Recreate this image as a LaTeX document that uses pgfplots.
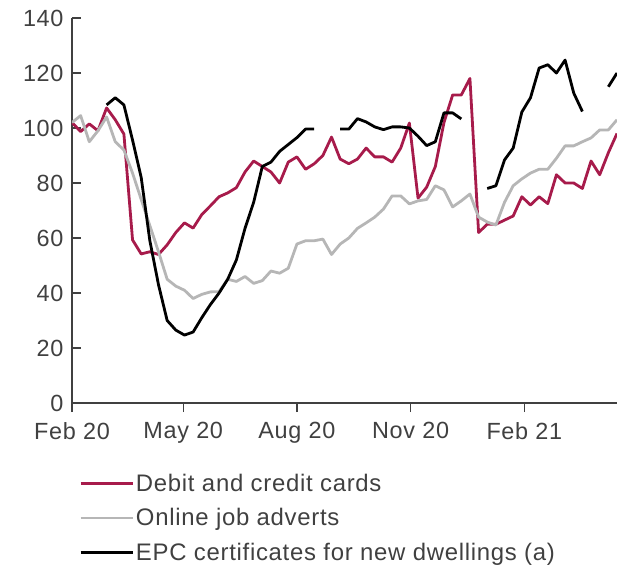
\documentclass[border=0pt]{standalone}
\usepackage{fontspec}
\setmainfont{Liberation Sans}[LetterSpace=3]
\usepackage{pgfplots}
\pgfplotsset{compat=1.18}
\definecolor{cardred}{RGB}{167,27,75}
\definecolor{jobgray}{RGB}{182,182,182}
\definecolor{txt}{RGB}{64,64,64}
\begin{document}
\begin{tikzpicture}
\begin{axis}[
 scale only axis, width=545bp, height=385bp,
 xmin=0, xmax=63, ymin=0, ymax=140,
 axis x line=bottom, axis y line=left,
 axis line style={-, draw=txt, line width=1.2bp},
 xtick={0,12.86,26,39.14,52.29},
 xticklabels={Feb 20, May 20, Aug 20, Nov 20, Feb 21},
 ytick={0,20,...,140},
 tick align=outside, major tick length=9bp,
 tick style={draw=txt, line width=1.2bp},
 y tick style={xshift=9bp},
 ticklabel style={font=\fontsize{23.5}{27}\selectfont, text=txt},
 x tick label style={yshift=-7bp},
 y tick label style={xshift=4bp},
 /pgf/number format/assume math mode=true,
 unbounded coords=jump,
 every axis plot/.append style={line width=2.8bp, line join=round},
 legend style={at={(0,0)}, anchor=north west, xshift=4bp, yshift=-67bp,
   draw=none, fill=none, font=\fontsize{24}{28}\selectfont, text=txt,
   row sep=11.5bp, cells={anchor=west}},
 legend image code/.code={\draw[#1, line width=2.8bp] (0bp,0bp) -- (52bp,0bp);},
]
\addplot[cardred] coordinates {
(0,102) (1,98.7) (2,101.5) (3,99) (4,107.3) (5,103) (6,97.8) (7,59.3) (8,54.2) (9,55)
(10,54) (11,57.5) (12,62) (13,65.5) (14,63.6) (15,68.5) (16,71.7) (17,75) (18,76.4) (19,78.3)
(20,84) (21,88) (22,86) (23,84) (24,80) (25,87.6) (26,89.5) (27,85) (28,87) (29,90)
(30,96.7) (31,88.7) (32,87) (33,88.7) (34,92.7) (35,89.5) (36,89.5) (37,87.6) (38,92.7) (39,101.8)
(40,74.5) (41,78.5) (42,86) (43,102) (44,112) (45,112) (46,118) (47,62) (48,65) (49,65)
(50,66.5) (51,68) (52,75) (53,72) (54,75) (55,72.5) (56,83) (57,80) (58,80) (59,78)
(60,88) (61,83) (62,91) (63,98)
};
\addlegendentry{Debit and credit cards}
\addplot[jobgray] coordinates {
(0,102) (1,104.5) (2,95) (3,99) (4,104) (5,95) (6,92) (7,83.6) (8,74) (9,64.5)
(10,55) (11,45) (12,42.5) (13,41) (14,38) (15,39.5) (16,40.4) (17,40.5) (18,45) (19,44.2)
(20,46) (21,43.5) (22,44.5) (23,48) (24,47.2) (25,49) (26,57.8) (27,59) (28,59) (29,59.6)
(30,54) (31,57.8) (32,60) (33,63.5) (34,65.5) (35,67.6) (36,70.5) (37,75.3) (38,75.3) (39,72.4)
(40,73.5) (41,74) (42,79) (43,77.5) (44,71.3) (45,73.5) (46,76) (47,67.6) (48,65.8) (49,64.7)
(50,73) (51,79) (52,81.5) (53,83.6) (54,85) (55,85) (56,89) (57,93.5) (58,93.5) (59,95)
(60,96.4) (61,99.3) (62,99.3) (63,103)
};
\addlegendentry{Online job adverts}
\addplot[black] coordinates {
(4,108.4) (5,111) (6,108.4) (7,95.6) (8,82) (9,59)
(10,43) (11,30) (12,26.5) (13,24.7) (14,25.8) (15,31) (16,35.8) (17,40) (18,45) (19,52)
(20,63.5) (21,73) (22,86) (23,87.6) (24,91.5) (25,94) (26,96.5) (27,99.6) (28,99.6) (29,nan)
(30,nan) (31,99.6) (32,99.6) (33,103.4) (34,102.2) (35,100.4) (36,99.4) (37,100.4) (38,100.4) (39,100)
(40,97) (41,93.6) (42,95) (43,105.5) (44,105.5) (45,103.3) (46,nan) (47,nan) (48,78) (49,79)
(50,88.4) (51,92.7) (52,105.8) (53,111) (54,121.8) (55,123) (56,120) (57,124.7) (58,112.7) (59,106)
(60,nan) (61,nan) (62,115) (63,120)
};
\addlegendentry{EPC certificates for new dwellings (a)}
\end{axis}
\pgfresetboundingbox
\path (-72bp,-164bp) rectangle (545bp,403bp);
\end{tikzpicture}
\end{document}
